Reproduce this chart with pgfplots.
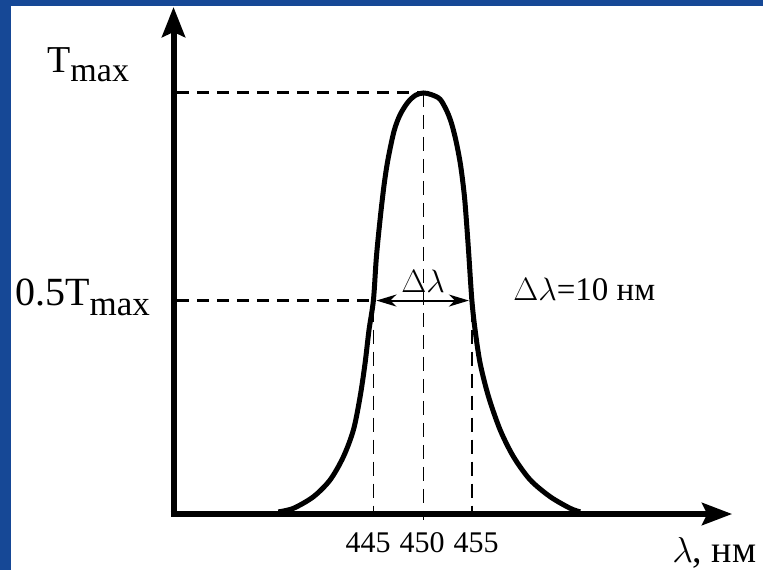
\documentclass[border=0pt]{standalone}
\usepackage{pgfplots}
\pgfplotsset{compat=1.18}
\usepackage{fontspec}
\setmainfont{Liberation Serif}
\usetikzlibrary{arrows.meta}
\definecolor{bgblue}{RGB}{22,72,150}
\newcommand{\bigmath}[2]{\scalebox{#1}{\fontsize{24.88}{26}\selectfont$#2$}}
\begin{document}
\begin{tikzpicture}
\begin{axis}[
  scale only axis, width=763pt, height=570pt,
  xmin=406.96, xmax=484.48, ymin=-0.1330, ymax=1.2209,
  hide axis, clip=false,
]
% background
\fill[white] (rel axis cs:0,0) rectangle (rel axis cs:1,1);
\fill[bgblue] (rel axis cs:0,0) rectangle (rel axis cs:0.01442,1);
\fill[bgblue] (rel axis cs:0,0.98947) rectangle (rel axis cs:1,1);
% dashed guide lines
\draw[line width=3pt, dash pattern=on 12pt off 8pt] (axis cs:424.95,1.0) -- (axis cs:450,1.0);
\draw[line width=3pt, dash pattern=on 12pt off 8pt] (axis cs:424.95,0.508) -- (axis cs:444.9,0.508);
\draw[line width=1.3pt, dash pattern=on 14pt off 8pt] (axis cs:444.9,0.49) -- (axis cs:444.9,0);
\draw[line width=1.3pt, dash pattern=on 14pt off 8pt] (axis cs:454.9,0.49) -- (axis cs:454.9,0);
\draw[line width=1.3pt, dash pattern=on 14pt off 8pt] (axis cs:450,1.0) -- (axis cs:450,-0.015);
% axes
\draw[line width=6pt, -{Stealth[length=30pt,width=23pt,inset=5pt]}] (axis cs:424.59,-0.007) -- (axis cs:424.59,1.2043);
\draw[line width=6pt, -{Stealth[length=30pt,width=22pt,inset=5pt]}] (axis cs:424.30,0) -- (axis cs:481.35,0);
% curve
\addplot[smooth, tension=0.5, line width=5pt, black] coordinates {
 (435.24,0.005) (436.77,0.0135) (438.80,0.041) (440.50,0.081) (441.85,0.136)
 (442.87,0.200) (443.55,0.279) (444.05,0.358) (444.45,0.437) (444.90,0.508)
 (445.20,0.610) (445.60,0.705) (446.00,0.785) (446.40,0.845) (447.00,0.910)
 (447.60,0.948) (448.40,0.978) (449.20,0.995) (450.00,1.000) (450.80,0.996)
 (451.68,0.985) (452.40,0.955) (452.87,0.925) (453.30,0.885) (453.71,0.835)
 (454.00,0.785) (454.22,0.735) (454.55,0.630) (454.90,0.508) (455.23,0.437)
 (455.74,0.358) (456.59,0.279) (457.77,0.200) (459.13,0.136) (460.83,0.081)
 (462.86,0.041) (464.89,0.0135) (465.91,0.005)
};
% delta lambda arrow
\draw[line width=2pt, {Stealth[length=20pt,width=12pt,inset=6pt]}-{Stealth[length=20pt,width=12pt,inset=6pt]}] (axis cs:445.2,0.507) -- (axis cs:454.6,0.507);
% texts
\node[anchor=base west, inner sep=0] at (axis cs:411.74,1.0475) {\fontsize{38}{40}\selectfont T\raisebox{-9pt}{\fontsize{34}{36}\selectfont max}};
\node[anchor=base west, inner sep=0] at (axis cs:408.49,0.4964) {\fontsize{40}{42}\selectfont 0.5T\raisebox{-10pt}{\fontsize{35}{37}\selectfont max}};
\node[anchor=base, inner sep=0] at (axis cs:444.36,-0.0926) {\fontsize{30}{32}\selectfont 445};
\node[anchor=base, inner sep=0] at (axis cs:449.85,-0.0926) {\fontsize{30}{32}\selectfont 450};
\node[anchor=base, inner sep=0] at (axis cs:455.34,-0.0926) {\fontsize{30}{32}\selectfont 455};
\node[anchor=base west, inner sep=0] at (axis cs:475.25,-0.114) {\fontsize{38}{40}\selectfont \bigmath{1.45}{\lambda}, нм};
\node[anchor=base west, inner sep=0] at (axis cs:459.10,0.508) {\fontsize{33}{35}\selectfont \bigmath{1.3}{\Delta\lambda}=10 нм};
\node[anchor=base, inner sep=0] at (axis cs:449.95,0.525) {\bigmath{1.3}{\Delta\lambda}};
\end{axis}
\pgfresetboundingbox
\path (current axis.south west) rectangle (current axis.north east);
\end{tikzpicture}
\end{document}
